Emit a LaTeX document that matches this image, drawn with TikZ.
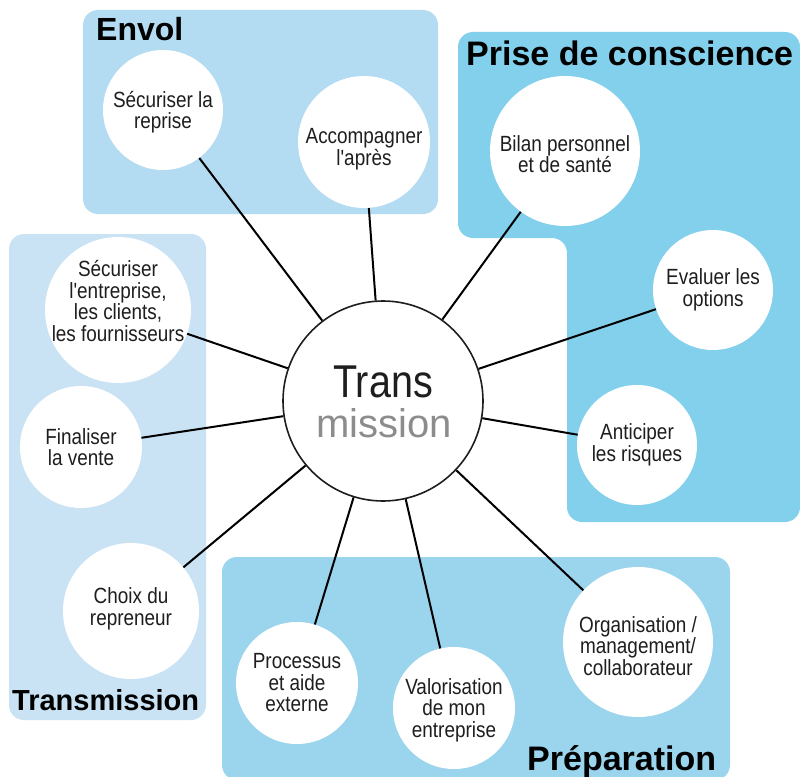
\documentclass[tikz,border=0pt]{standalone}
\usepackage{fontspec}
\setmainfont{Liberation Sans}
\newfontfamily\condfont{Liberation Sans}[FakeStretch=0.86]
\newfontfamily\hubfont{Liberation Sans}[FakeStretch=0.86]
\definecolor{envolblue}{HTML}{B3DBF1}
\definecolor{priseblue}{HTML}{82D0EC}
\definecolor{transblue}{HTML}{C9E3F4}
\definecolor{prepblue}{HTML}{9BD4ED}
\definecolor{inkgray}{HTML}{1E1E1E}
\begin{document}
\begin{tikzpicture}[x=1pt, y=-1pt,
    zone/.style={rounded corners=15pt},
    bubble/.style={circle, fill=white, inner sep=0pt},
    bubbletext/.style={align=center, inner sep=0pt, text=inkgray,
      font=\condfont\fontsize{22}{21.5}\selectfont},
    zonetitle/.style={anchor=base west, inner sep=0pt, font=\bfseries},
    spoke/.style={line width=2pt, black}]
  \useasboundingbox (0,0) rectangle (800,776);
  % The four coloured zones
  \fill [zone, envolblue] (83,10) rectangle (438,214);
  \fill [zone, priseblue] (458,32) -- (800,32) -- (800,522) -- (567,522)
    -- (567,238) -- (458,238) -- cycle;
  \fill [zone, transblue] (9,234) rectangle (206,720);
  \fill [zone, prepblue] (222,557) rectangle (730,780);
  % Zone titles
  \node [zonetitle, font=\bfseries\fontsize{32}{32}\selectfont] (envol) at (96,41) {Envol};
  \node [zonetitle, font=\bfseries\fontsize{34}{34}\selectfont] (prise) at (466,66) {Prise de conscience};
  \node [zonetitle, font=\bfseries\fontsize{29}{29}\selectfont] (transm) at (12,710) {Transmission};
  \node [zonetitle, font=\bfseries\fontsize{34}{34}\selectfont] (prepa) at (527,770) {Préparation};
  % The hub in the middle
  \node [circle, draw=inkgray, line width=1.6pt, fill=white, minimum size=200pt] (hub) at (383,401) {};
  \node [anchor=base, inner sep=0pt, text=inkgray, font=\hubfont\fontsize{46}{46}\selectfont] (hubtop) at (383,397) {Trans};
  \node [anchor=base, inner sep=0pt, text=black!45, font=\fontsize{40}{40}\selectfont] (hubbottom) at (384,437) {mission};
  % Outer bubbles: name/x/y/radius/text shift/text
  \foreach \id/\x/\y/\r/\dy/\txt in {
      secrep/163/110/60/2/{Sécuriser la\\reprise},
      accomp/364/142/66/7/{Accompagner\\l'après},
      bilan/565/151/75/3/{Bilan personnel\\et de santé},
      evaluer/713/290/60/0/{Evaluer les\\options},
      anticip/637/445/60/0/{Anticiper\\les risques},
      secent/118/310/73/-9/{Sécuriser\\l'entreprise,\\les clients,\\les fournisseurs},
      finvente/81/447/61/0/{Finaliser\\la vente},
      choix/131/611/68/-2/{Choix du\\repreneur},
      process/297/683/61/0/{Processus\\et aide\\externe},
      valor/454/708/61/2/{Valorisation\\de mon\\entreprise},
      organ/638/642/75/4/{Organisation /\\management/\\collaborateur}} {
    \node [bubble, minimum size=2*\r] (\id) at (\x,\y) {};
    \node [bubbletext] (\id-t) at (\x,\y+\dy) {\txt};
  }
  % Spokes from the hub
  \foreach \id in {secrep,accomp,bilan,evaluer,anticip,secent,finvente,choix,process,valor,organ} {
    \draw [spoke] (hub) -- (\id);
  }
\end{tikzpicture}
\end{document}
